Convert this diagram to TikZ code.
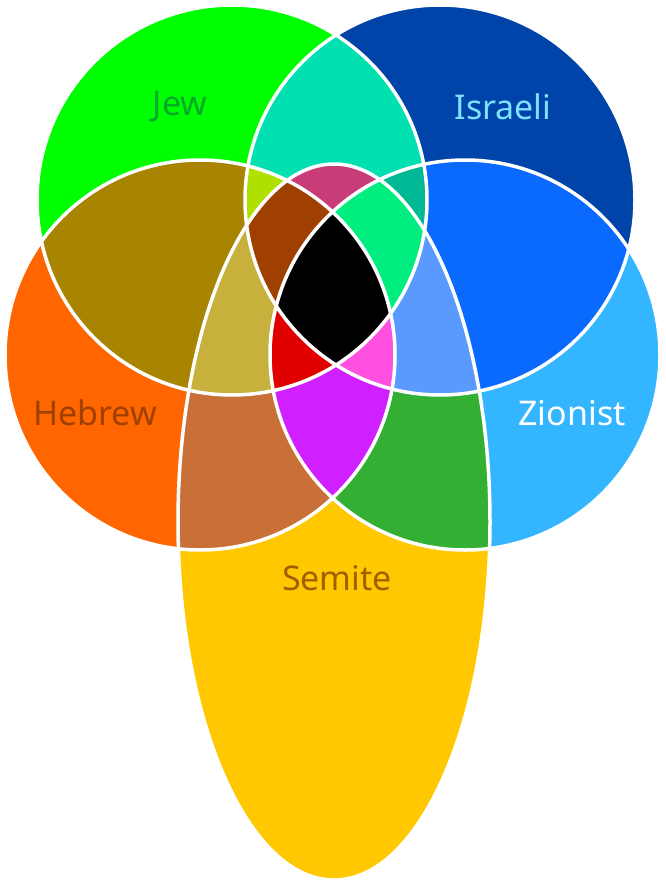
\documentclass[tikz,border=0pt]{standalone}
\usepackage{fontspec}
\setmainfont{Noto Sans}
\begin{document}
\begin{tikzpicture}[x=1pt,y=-1pt,lbl/.style={font=\fontsize{34}{36}\selectfont}]
\path[use as bounding box] (0,0) rectangle (665,883);
\def\J{(232,200) circle[radius=195pt]}
\def\I{(440,200) circle[radius=195pt]}
\def\H{(200,355) circle[radius=195pt]}
\def\Z{(465,355) circle[radius=195pt]}
\def\S{(334,522) ellipse[x radius=156pt,y radius=358pt]}
\newcommand\reg[2]{\begin{scope}\foreach \s in {#1}{\clip \s;}\fill[#2] (0,0) rectangle (665,883);\end{scope}}
% singles
\fill[color={rgb,255:red,255;green,200;blue,0}] \S;
\fill[color={rgb,255:red,255;green,102;blue,0}] \H;
\fill[color={rgb,255:red,51;green,181;blue,255}] \Z;
\fill[color={rgb,255:red,0;green,255;blue,0}] \J;
\fill[color={rgb,255:red,0;green,68;blue,170}] \I;
% pairs
\reg{\J,\I}{color={rgb,255:red,0;green,224;blue,176}}
\reg{\J,\H}{color={rgb,255:red,168;green,132;blue,0}}
\reg{\I,\Z}{color={rgb,255:red,10;green,106;blue,255}}
\reg{\H,\S}{color={rgb,255:red,200;green,112;blue,56}}
\reg{\Z,\S}{color={rgb,255:red,51;green,176;blue,51}}
% triples
\reg{\J,\I,\H}{color={rgb,255:red,176;green,224;blue,0}}
\reg{\J,\I,\S}{color={rgb,255:red,200;green,60;blue,120}}
\reg{\J,\I,\Z}{color={rgb,255:red,0;green,184;blue,148}}
\reg{\J,\H,\S}{color={rgb,255:red,200;green,176;blue,60}}
\reg{\I,\Z,\S}{color={rgb,255:red,90;green,154;blue,255}}
\reg{\H,\Z,\S}{color={rgb,255:red,208;green,32;blue,255}}
% quads
\reg{\J,\I,\H,\S}{color={rgb,255:red,160;green,64;blue,0}}
\reg{\J,\I,\Z,\S}{color={rgb,255:red,0;green,238;blue,128}}
\reg{\J,\H,\Z,\S}{color={rgb,255:red,224;green,0;blue,0}}
\reg{\I,\H,\Z,\S}{color={rgb,255:red,255;green,80;blue,224}}
\reg{\J,\I,\H,\Z,\S}{black}
% outlines
\foreach \s in {\J,\I,\H,\Z,\S}{\draw[white,line width=3.5pt] \s;}
% labels
\node[lbl,text={rgb,255:red,0;green,170;blue,40}] (jew) at (180,107) {Jew};
\node[lbl,text={rgb,255:red,128;green,224;blue,255}] (isr) at (503,107) {Israeli};
\node[lbl,text={rgb,255:red,160;green,64;blue,0}] (heb) at (95,413) {Hebrew};
\node[lbl,text=white] (zio) at (572,413) {Zionist};
\node[lbl,text={rgb,255:red,160;green,96;blue,0}] (sem) at (337,578) {Semite};
\end{tikzpicture}
\end{document}
